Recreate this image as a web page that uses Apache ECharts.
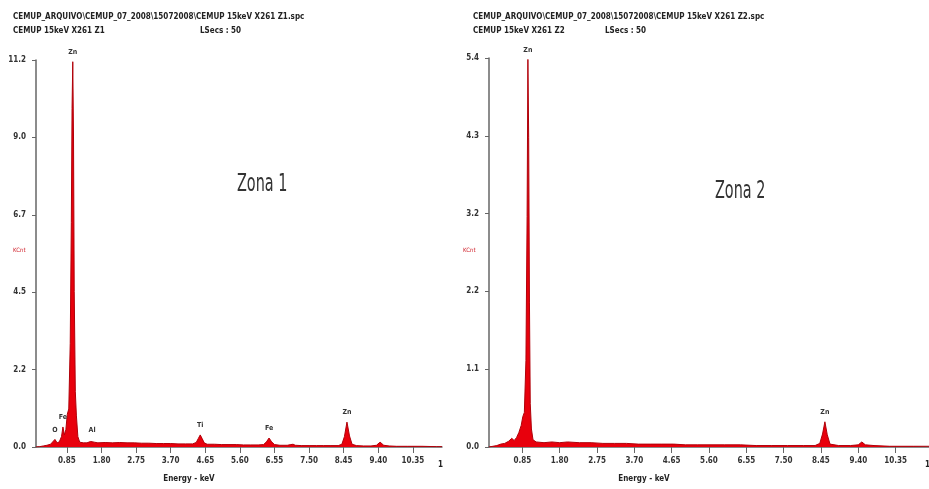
<!DOCTYPE html>
<html>
<head>
<meta charset="utf-8">
<script src="https://cdn.jsdelivr.net/npm/echarts@6/dist/echarts.min.js"></script>
<style>
  html, body { margin: 0; padding: 0; background: #fff; }
  #chart { width: 929px; height: 489px; }
</style>
</head>
<body>
<div id="chart"></div>
<script>
// spectrum Zona 1: [energy keV, KCnt]
var zona1 = [
  [0.0,0],[0.1,0.01],[0.2,0.03],[0.3,0.05],[0.4,0.08],[0.45,0.12],[0.52,0.22],[0.58,0.12],
  [0.64,0.15],[0.70,0.3],[0.74,0.58],[0.78,0.35],[0.82,0.5],[0.86,0.95],[0.90,1.1],[0.94,3.0],
  [0.97,6.5],[0.99,9.8],[1.01,11.15],[1.03,9.0],[1.05,4.5],[1.08,1.6],[1.11,0.9],[1.15,0.3],
  [1.2,0.14],[1.3,0.12],[1.4,0.12],[1.5,0.16],[1.54,0.2],[1.6,0.14],[1.7,0.12],[1.9,0.13],
  [2.1,0.12],[2.3,0.13],[2.5,0.12],[2.7,0.12],[2.9,0.11],[3.1,0.11],[3.3,0.1],[3.5,0.1],
  [3.7,0.1],[3.9,0.09],[4.1,0.09],[4.3,0.09],[4.4,0.13],[4.46,0.25],[4.51,0.35],[4.56,0.25],
  [4.62,0.12],[4.7,0.08],[4.9,0.08],[5.1,0.07],[5.3,0.07],[5.5,0.07],[5.7,0.06],[5.9,0.06],
  [6.1,0.06],[6.25,0.07],[6.33,0.15],[6.40,0.26],[6.47,0.15],[6.55,0.07],[6.7,0.05],[6.9,0.05],
  [7.0,0.07],[7.06,0.08],[7.12,0.05],[7.3,0.04],[7.5,0.04],[7.7,0.04],[7.9,0.04],[8.1,0.04],
  [8.3,0.04],[8.4,0.08],[8.47,0.3],[8.54,0.72],[8.61,0.32],[8.68,0.08],[8.8,0.04],[9.0,0.03],
  [9.2,0.03],[9.35,0.05],[9.45,0.14],[9.55,0.05],[9.7,0.03],[9.9,0.02],[10.2,0.02],[10.6,0.02],
  [11.0,0.01],[11.15,0.01]
];
// spectrum Zona 2
var zona2 = [
  [0,0],[0.1,0.01],[0.2,0.02],[0.3,0.04],[0.4,0.05],[0.5,0.08],[0.58,0.12],[0.64,0.09],
  [0.7,0.13],[0.76,0.2],[0.82,0.3],[0.86,0.42],[0.9,0.48],[0.94,1.2],[0.97,3.2],[0.99,5.38],
  [1.01,4.3],[1.03,2.0],[1.05,0.6],[1.08,0.25],[1.12,0.1],[1.2,0.07],[1.4,0.06],[1.6,0.07],
  [1.8,0.06],[2.0,0.07],[2.3,0.06],[2.6,0.06],[2.9,0.05],[3.2,0.05],[3.5,0.05],[3.8,0.04],
  [4.1,0.04],[4.4,0.04],[4.7,0.04],[5.0,0.03],[5.3,0.03],[5.6,0.03],[6.0,0.03],[6.4,0.03],
  [6.8,0.02],[7.2,0.02],[7.6,0.02],[8.0,0.02],[8.3,0.02],[8.42,0.05],[8.49,0.18],[8.55,0.35],
  [8.61,0.17],[8.68,0.04],[8.9,0.02],[9.2,0.02],[9.4,0.03],[9.49,0.07],[9.58,0.03],[9.8,0.02],
  [10.2,0.01],[10.8,0.01],[11.2,0.01]
];
// element peak labels [energy, KCnt, name]
var peaks1 = [[0.52,0.22,'O'],[0.74,0.58,'Fe'],[1.01,11.15,'Zn'],[1.54,0.2,'Al'],[4.51,0.35,'Ti'],[6.40,0.26,'Fe'],[8.54,0.72,'Zn']];
var peaks2 = [[0.99,5.38,'Zn'],[8.55,0.35,'Zn']];
var energyTicks = [0.85,1.80,2.75,3.70,4.65,5.60,6.55,7.50,8.45,9.40,10.35];
var yMax1 = 11.2, yMax2 = 5.4;

var FONT = "'Liberation Sans Narrow','DejaVu Sans Condensed',sans-serif";
var axisGray = '#666';

function xAxisCfg(idx, max) {
  return {
    type: 'value', gridIndex: idx, min: 0, max: max,
    axisLine: { lineStyle: { color: axisGray, width: 1.5 } },
    axisTick: { show: true, customValues: energyTicks, length: 6, lineStyle: { color: axisGray } },
    axisLabel: { customValues: energyTicks, margin: 10, color: '#333', fontSize: 8, fontWeight: 'bold', fontFamily: FONT,
      formatter: function (v) { return v.toFixed(2); } },
    splitLine: { show: false }
  };
}
function yAxisCfg(idx, max) {
  return {
    type: 'value', gridIndex: idx, min: 0, max: max, interval: max / 5,
    axisLine: { show: true, lineStyle: { color: axisGray, width: 1.5 } },
    axisTick: { show: true, length: 4, lineStyle: { color: axisGray } },
    axisLabel: { margin: 10, color: '#333', fontSize: 8, fontWeight: 'bold', fontFamily: FONT,
      formatter: function (v) { return v.toFixed(1); } },
    splitLine: { show: false }
  };
}
function spectrum(idx, data, peaks) {
  return {
    type: 'line', xAxisIndex: idx, yAxisIndex: idx, data: data,
    showSymbol: false, smooth: false, silent: true,
    lineStyle: { color: '#b0000a', width: 1 },
    areaStyle: { color: '#e8000c', opacity: 1 },
    markPoint: {
      symbol: 'circle', symbolSize: 0, silent: true,
      label: { show: true, position: 'top', distance: 6, color: '#333', fontSize: 7, fontWeight: 'bold', fontFamily: FONT,
        formatter: function (p) { return p.name; } },
      data: peaks.map(function (p) { return { name: p[2], coord: [p[0], p[1]] }; })
    }
  };
}
function txt(x, y, s, size, opts) {
  var o = opts || {};
  return { type: 'text', x: x, y: y, scaleY: o.scaleY || 1, style: { text: s, fill: o.color || '#222',
    font: (o.weight || 'bold') + ' ' + size + 'px ' + FONT, textAlign: o.align || 'left', textVerticalAlign: 'middle' } };
}

var chart = echarts.init(document.getElementById('chart'));
chart.setOption({
  animation: false,
  grid: [
    { left: 36, top: 60, width: 406, height: 387 },
    { left: 489, top: 58, width: 440, height: 389 }
  ],
  xAxis: [xAxisCfg(0, 11.15), xAxisCfg(1, 11.2)],
  yAxis: [yAxisCfg(0, yMax1), yAxisCfg(1, yMax2)],
  series: [spectrum(0, zona1, peaks1), spectrum(1, zona2, peaks2)],
  graphic: [
    txt(13, 17, 'CEMUP_ARQUIVO\\CEMUP_07_2008\\15072008\\CEMUP 15keV X261 Z1.spc', 8),
    txt(13, 31, 'CEMUP 15keV X261 Z1', 8),
    txt(200, 31, 'LSecs : 50', 8),
    txt(473, 17, 'CEMUP_ARQUIVO\\CEMUP_07_2008\\15072008\\CEMUP 15keV X261 Z2.spc', 8),
    txt(473, 31, 'CEMUP 15keV X261 Z2', 8),
    txt(605, 31, 'LSecs : 50', 8),
    txt(13, 250, 'KCnt', 6, { color: '#d0202a', weight: 'normal' }),
    txt(463, 250, 'KCnt', 6, { color: '#d0202a', weight: 'normal' }),
    txt(189, 479, 'Energy - keV', 8, { align: 'center' }),
    txt(644, 479, 'Energy - keV', 8, { align: 'center' }),
    txt(438, 465, '1', 8),
    txt(925, 465, '1', 8),
    txt(237, 185, 'Zona 1', 16, { weight: 'normal', scaleY: 1.5, color: '#333' }),
    txt(715, 192, 'Zona 2', 16, { weight: 'normal', scaleY: 1.5, color: '#333' })
  ]
});
</script>
</body>
</html>
